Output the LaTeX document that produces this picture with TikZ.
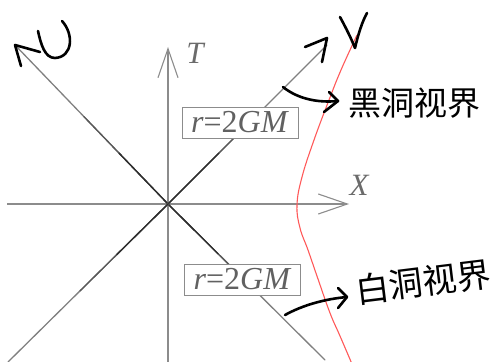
\documentclass[tikz,border=0pt]{standalone}
\usepackage{fontspec}
\setmainfont{Liberation Serif}
\newfontfamily\cjk{Noto Sans CJK SC}
\usetikzlibrary{arrows.meta,calc}
\begin{document}
\begin{tikzpicture}[x=1pt,y=-1pt,
  axisline/.style={draw=black!45, line width=1.1pt, -{Straight Barb[length=29pt,width=20pt,line width=1.1pt]}},
  diag/.style={line width=1.3pt, line cap=round},
  hbox/.style={draw=black!45, line width=1pt, fill=white, minimum width=116pt, minimum height=31pt, inner sep=0pt, text=black!62, font=\fontsize{32}{32}\selectfont},
  axlabel/.style={text=black!58, font=\fontsize{31}{31}\selectfont\itshape},
  hand/.style={line width=2.6pt, line cap=round, line join=round, black},
  hortext/.style={text=black, font=\cjk\fontsize{33}{33}\selectfont},
  horizon/.style={draw=red!65, line width=1.1pt}]
\useasboundingbox (0,0) rectangle (497,361);
\clip (0,0) rectangle (497,361);
% coordinates
\coordinate (O) at (168,204);
\coordinate (Ttip) at (168,47);
\coordinate (Tbot) at (168,365);
\coordinate (Xtip) at (349,204);
\coordinate (Xleft) at (7,204);
\coordinate (Uend) at (15,45);
\coordinate (Umin) at (325,360);
\coordinate (Vend) at (327,45);
\coordinate (Vmin) at (8,362);
% axes
\draw[axisline] (Tbot) -- (Ttip);
\draw[axisline] (Xleft) -- (Xtip);
\node[axlabel] (T) at (195,53) {T};
\node[axlabel] (X) at (359,185) {X};
% diagonals
\foreach \e in {Uend,Umin,Vend,Vmin}{
  \draw[diag, black!50] (O) -- (\e);
  \draw[diag, black!65] (O) -- ($(O)!0.55!(\e)$);
  \draw[diag, black!82] (O) -- ($(O)!0.32!(\e)$);
}
% boxes
\node[hbox] (b1) at (240,122.5) {\textit{r}=2\textit{GM}};
\node[hbox] (b2) at (242.5,279.5) {\textit{r}=2\textit{GM}};
% horizon hyperbola
\draw[horizon] plot[smooth, tension=0.7] coordinates {(357,35) (341,70) (329,100) (314,140) (302,177) (297,205) (300,228) (308,250) (318,279) (330,313) (340,336) (352,364)};
% handwritten U
\draw[hand] (62,21) .. controls (74,34) and (73,57) .. (55,58) .. controls (45,58) and (41,45) .. (38,31);
\draw[hand] (40,52) -- (Uend) -- (21,66);
% handwritten V
\draw[hand] (340,17) .. controls (346,28) and (351,38) .. (355,48) .. controls (358,35) and (362,22) .. (367,13);
\draw[hand] (305,47) -- (Vend |- 0,38) coordinate (Vh) -- (322,62);
% labels
\node[hortext] (bh) at (414,103) {黑洞视界};
\node[hortext, rotate=7, font=\cjk\fontsize{34}{34}\selectfont] (wh) at (423,282) {白洞视界};
% pointer arrows
\coordinate (p1s) at (283,87);
\coordinate (p1e) at (338,101);
\draw[hand] (p1s) .. controls (298,99) and (318,103) .. (p1e);
\draw[hand] (329,92) -- (p1e) -- (324,112);
\coordinate (p2s) at (285,315);
\coordinate (p2e) at (347,297);
\draw[hand] (p2s) .. controls (303,305) and (325,299) .. (p2e);
\draw[hand] (338,288) -- (p2e) -- (338,308);
\end{tikzpicture}
\end{document}
